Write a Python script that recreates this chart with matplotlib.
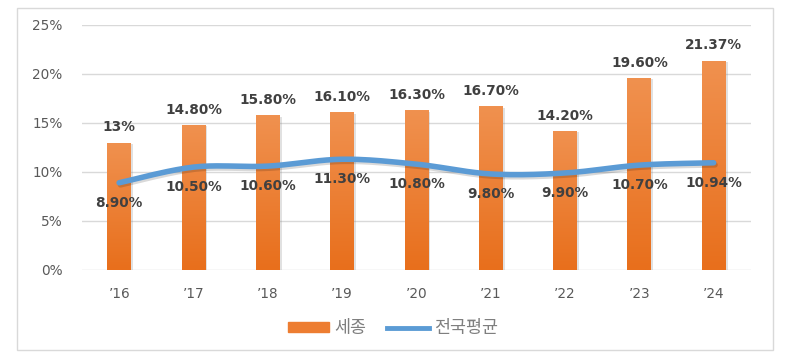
import numpy as np
import matplotlib.pyplot as plt
from matplotlib.patches import Rectangle
from matplotlib.lines import Line2D
from matplotlib.colors import LinearSegmentedColormap
from matplotlib import patheffects as pe

plt.rcParams['font.family'] = ['DejaVu Sans', 'Noto Sans CJK KR']

years = ["’16", "’17", "’18", "’19", "’20", "’21", "’22", "’23", "’24"]
sejong = [13, 14.8, 15.8, 16.1, 16.3, 16.7, 14.2, 19.6, 21.37]
national = [8.9, 10.5, 10.6, 11.3, 10.8, 9.8, 9.9, 10.7, 10.94]
sejong_labels = ["13%", "14.80%", "15.80%", "16.10%", "16.30%", "16.70%", "14.20%", "19.60%", "21.37%"]
national_labels = ["8.90%", "10.50%", "10.60%", "11.30%", "10.80%", "9.80%", "9.90%", "10.70%", "10.94%"]

orange = "#ED7D31"
blue = "#5B9BD5"
label_col = "#404040"
tick_col = "#595959"


def smooth(x, y, n=20):
    # catmull-rom style smoothing, like excel's "smoothed line"
    x = np.asarray(x, float)
    y = np.asarray(y, float)
    px = np.concatenate([[x[0]], x, [x[-1]]])
    py = np.concatenate([[y[0]], y, [y[-1]]])
    xs, ys = [], []
    t = np.linspace(0, 1, n)
    for i in range(1, len(px) - 2):
        p0, p1, p2, p3 = [np.array([px[j], py[j]]) for j in (i - 1, i, i + 1, i + 2)]
        m1 = (p2 - p0) / 2
        m2 = (p3 - p1) / 2
        h00 = 2 * t**3 - 3 * t**2 + 1
        h10 = t**3 - 2 * t**2 + t
        h01 = -2 * t**3 + 3 * t**2
        h11 = t**3 - t**2
        pts = np.outer(h00, p1) + np.outer(h10, m1) + np.outer(h01, p2) + np.outer(h11, m2)
        xs.extend(pts[:, 0])
        ys.extend(pts[:, 1])
    return np.array(xs), np.array(ys)


fig = plt.figure(figsize=(7.92, 3.57), dpi=100)
fig.patches.append(Rectangle((0.0215, 0.0196), 0.9545, 0.958, transform=fig.transFigure,
                             fill=False, edgecolor="#D9D9D9", linewidth=1))
ax = fig.add_axes([0.1035, 0.2437, 0.8445, 0.6863])

x = np.arange(len(years))
bars = ax.bar(x, sejong, width=0.32, color=orange, zorder=2,
              path_effects=[pe.SimplePatchShadow(offset=(1.5, -1), shadow_rgbFace="#888888", alpha=0.25), pe.Normal()])

# vertical gradient on each bar, lighter at the top
grad = LinearSegmentedColormap.from_list("og", ["#E86F1C", "#F0914F"])
for b in bars:
    bx, by = b.get_x(), b.get_y()
    im = ax.imshow(np.linspace(0, 1, 100).reshape(-1, 1), cmap=grad, origin="lower", aspect="auto",
                   extent=[bx, bx + b.get_width(), by, by + b.get_height()], zorder=2.1)
    im.set_clip_path(b)

sx, sy = smooth(x, national)
ax.plot(sx, sy, color=blue, linewidth=4, solid_capstyle="round", zorder=3,
        path_effects=[pe.SimpleLineShadow(offset=(1, -1.5), alpha=0.15), pe.Normal()])

for xi, v, s in zip(x, sejong, sejong_labels):
    ax.annotate(s, (xi, v), xytext=(0, 11), textcoords="offset points", ha="center", va="center",
                fontsize=9.8, fontweight="bold", color=label_col)
for xi, v, s in zip(x, national, national_labels):
    ax.annotate(s, (xi, v), xytext=(0, -14.5), textcoords="offset points", ha="center", va="center",
                fontsize=9.8, fontweight="bold", color=label_col)

ax.set_xlim(-0.5, len(years) - 0.5)
ax.set_ylim(0, 25)
ax.set_yticks(np.arange(0, 26, 5))
ax.set_yticklabels([f"{v}%" for v in range(0, 26, 5)])
ax.set_xticks(x)
ax.set_xticklabels(years)
ax.tick_params(axis="y", length=0, pad=14, labelsize=9.8, labelcolor=tick_col)
ax.tick_params(axis="x", length=0, pad=12, labelsize=9.8, labelcolor=tick_col)
ax.grid(axis="y", color="#D9D9D9", linewidth=1, zorder=0)
ax.set_axisbelow(True)
for sp in ax.spines.values():
    sp.set_visible(False)

handles = [Rectangle((0, 0), 1, 1, color=orange), Line2D([], [], color=blue, linewidth=3.5)]
fig.legend(handles, ["세종", "전국평균"], loc="center", bbox_to_anchor=(0.496, 0.08), ncol=2,
           frameon=False, prop={"family": "Noto Sans CJK KR", "size": 12.5}, labelcolor="#7F7F7F",
           handlelength=2.4, handleheight=0.5, columnspacing=1.2, handletextpad=0.3)

fig.savefig("out.png", dpi=100)
